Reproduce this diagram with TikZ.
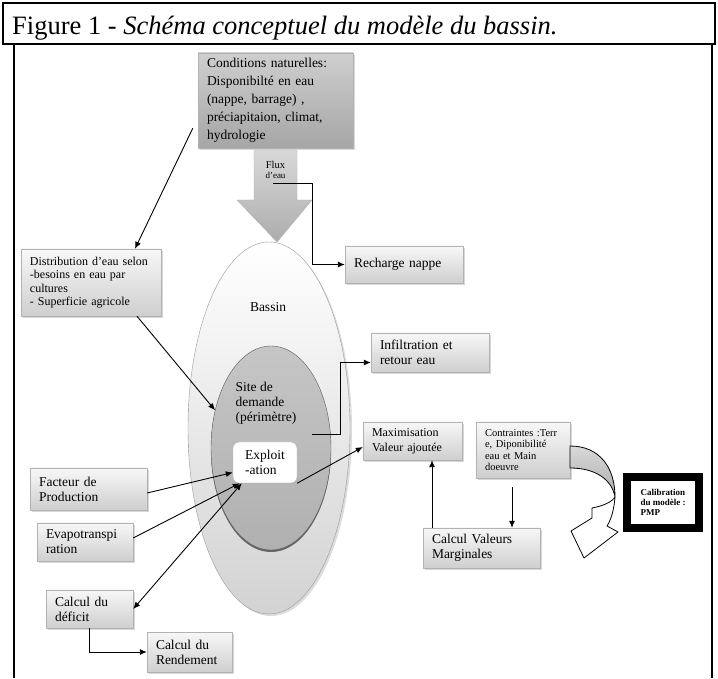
\documentclass[tikz,border=0pt]{standalone}
\usepackage{fontspec}
\setmainfont{Liberation Serif}
\usetikzlibrary{arrows.meta, positioning, calc, shapes.geometric, shadows}

\begin{document}
\begin{tikzpicture}[x=1pt, y=1pt,
    box/.style={draw=gray!60, top color=gray!6, bottom color=gray!38,
        drop shadow={shadow xshift=2pt, shadow yshift=-2pt, fill=gray!60},
        inner xsep=9pt, inner ysep=3pt, align=left, font=\fontsize{13.5}{15}\selectfont},
    link/.style={-{Latex[length=7pt, width=6pt]}, line width=0.9pt},
    dlink/.style={{Latex[length=7pt, width=6pt]}-{Latex[length=7pt, width=6pt]}, line width=0.9pt}]
    \useasboundingbox (0,0) rectangle (718,678);
    % frame and title
    \draw[line width=1.2pt] (3,634) rectangle (715,675);
    \draw[line width=1.2pt] (14,634) -- (14,0) (712,634) -- (712,0);
    \node[anchor=base west, inner sep=0pt, font=\fontsize{26.5}{30}\selectfont] (title) at (12,643)
        {Figure 1 - \textit{Schéma conceptuel du modèle du bassin.}};
    % bassin and site de demande
    \node[ellipse, minimum width=162pt, minimum height=372pt, draw=gray!80,
        top color=white, bottom color=gray!35,
        drop shadow={shadow xshift=2pt, shadow yshift=-2pt, fill=gray!55}] (bassin) at (269,250) {};
    \node[font=\fontsize{13.5}{15}\selectfont] (bassinlbl) at (268,371) {Bassin};
    \node[ellipse, minimum width=120pt, minimum height=204pt, draw=gray!70!black,
        top color=gray!45, bottom color=gray!62,
        drop shadow={shadow xshift=0pt, shadow yshift=-2pt, fill=gray!80!black, opacity=1}] (site) at (271,230) {};
    \node[align=left, font=\fontsize{13.5}{15}\selectfont] (sitelbl) at (266,275) {Site de\\demande\\(périmètre)};
    \node[draw=gray!60, fill=white, rounded corners=6pt, minimum width=64pt, minimum height=41pt,
        align=left, font=\fontsize{13.5}{15}\selectfont,
        drop shadow={shadow xshift=1.5pt, shadow yshift=-1.5pt, fill=gray!60}] (exploit) at (265,215.5) {Exploit\\-ation};
    % flux d'eau
    \draw[draw=gray!60, top color=gray!30, bottom color=gray!65]
        (254,528) -- (297,528) -- (297,478) -- (312,478) -- (277,436) -- (237,478) -- (254,478) -- cycle;
    \node[align=center, inner sep=0pt, font=\fontsize{9}{10}\selectfont] (fluxlbl) at (275.5,508)
        {{\fontsize{10.5}{11}\selectfont Flux}\\d’eau};
    \coordinate (fluxpt) at (273,495);
    % boxes
    \node[box, text width=137pt, minimum height=95pt, top color=gray!38, bottom color=gray!70,
        font=\fontsize{13.5}{18}\selectfont] (cond) at (275.5,577.5)
        {Conditions naturelles:\\Disponibilté en eau\\(nappe, barrage) ,\\préciapitaion, climat,\\hydrologie};
    \node[box, text width=122pt, minimum height=67pt, font=\fontsize{12}{13.5}\selectfont] (distrib) at (91,395.5)
        {Distribution d’eau selon\\-besoins en eau par\\cultures\\- Superficie agricole};
    \node[box, text width=100pt, minimum height=37pt] (recharge) at (404,413.5) {Recharge nappe};
    \node[box, text width=100pt, minimum height=39pt] (infil) at (430,325.5) {Infiltration et\\retour eau};
    \node[box, text width=81pt, minimum height=38pt, font=\fontsize{12}{15}\selectfont] (maxim) at (412.5,237)
        {Maximisation\\Valeur ajoutée};
    \node[box, text width=76pt, minimum height=56pt, font=\fontsize{10.5}{11.5}\selectfont] (contr) at (523,228)
        {Contraintes :Terr\\e, Diponibilité\\eau et Main\\doeuvre};
    \node[box, text width=99pt, minimum height=40pt] (calcvm) at (481.5,130) {Calcul Valeurs\\Marginales};
    \node[box, text width=99pt, minimum height=42pt] (facteur) at (88.5,189) {Facteur de\\Production};
    \node[box, text width=78pt, minimum height=38pt] (evapo) at (85,136) {Evapotranspi\\ration};
    \node[box, text width=69pt, minimum height=38pt] (deficit) at (89.5,69) {Calcul du\\déficit};
    \node[box, text width=67pt, minimum height=40pt] (rendement) at (189.5,26) {Calcul du\\Rendement};
    \node[draw=black, line width=8pt, fill=white, minimum width=72pt, minimum height=51pt,
        align=left, font=\bfseries\fontsize{9}{10}\selectfont] (calib) at (663,175.5)
        {Calibration\\du modèle :\\PMP};
    \draw[line width=1pt] ($(calib.south west)+(7,7)$) rectangle ($(calib.north east)+(-7,-7)$);
    % curved arrow
    \draw[draw=black, line width=0.8pt, top color=gray!30, bottom color=gray!65]
        (570,232) .. controls (600,232) and (615,210) .. (615,181)
        .. controls (612,198) and (596,210) .. (570,210) -- cycle;
    \draw[draw=black, line width=0.8pt, fill=white, line join=round]
        (615,181) .. controls (614,168) and (611,158) .. (607,152) -- (618,146) -- (584,120)
        -- (571,147) -- (592,160) -- (592,170) .. controls (603,172) and (612,176) .. (615,181) -- cycle;
    % connectors
    \coordinate (condpt) at ($(cond.south west)+(-5,20)$);
    \coordinate (sitept) at (312,244);
    \draw[link] (fluxpt) -- ++(39,0) |- (recharge.west);
    \draw[link] (condpt) -- ([xshift=44pt]distrib.north);
    \draw[link] ([xshift=46pt]distrib.south) -- (site.146);
    \draw[link] (sitept) -- ++(28,0) |- ([yshift=-10pt]infil.west);
    \draw[link] (exploit.south east) -- ([yshift=-6pt]maxim.west);
    \draw[link] ([xshift=-11pt, yshift=-9pt]contr.south) -- ([xshift=-11pt]contr.south |- calcvm.north);
    \draw[link] ([xshift=-49.5pt]calcvm.north) -- ([xshift=-49.5pt]calcvm.north |- maxim.south);
    \draw[link] ([yshift=-4pt]facteur.east) -- ([yshift=-10pt]exploit.west);
    \draw[link] ([yshift=4pt]evapo.east) -- ([xshift=7pt]exploit.south west);
    \draw[dlink] (deficit.east) -- ([xshift=9pt]exploit.south west);
    \draw[link] (deficit.south) |- (rendement.west);
\end{tikzpicture}
\end{document}
